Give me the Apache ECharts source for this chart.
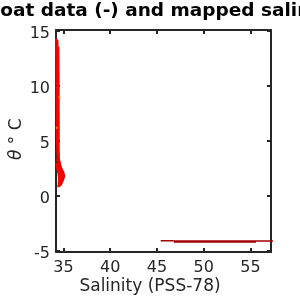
<!DOCTYPE html>
<html><head><meta charset="utf-8">
<script src="https://cdn.jsdelivr.net/npm/echarts@6/dist/echarts.min.js"></script>
<style>html,body{margin:0;padding:0;background:#fff}#c{width:300px;height:300px}</style>
</head><body><div id="c"></div>
<script>
const titleText = "float data (-) and mapped salinity (o)";
const xLabel = "Salinity (PSS-78)";
const xTicks = [35, 40, 45, 50, 55];
const yTicks = [-5, 0, 5, 10, 15];

// float profiles: salinity / theta
const floatTheta1 = [14.3, 13, 11, 9, 7, 5, 4, 3, 2.5, 2, 1.6];
const floatSal1   = [34.24, 34.25, 34.27, 34.3, 34.31, 34.33, 34.37, 34.43, 34.55, 34.6, 34.62];
const floatTheta2 = [14.2, 12.5, 10.5, 8.5, 6.5, 4.5, 3.5, 2.8, 2.2, 1.8, 1.2];
const floatSal2   = [34.33, 34.34, 34.36, 34.38, 34.4, 34.42, 34.47, 34.6, 34.75, 34.82, 34.7];
const floatTheta3 = [13.6, 12, 10, 8, 6, 4.2, 3.2, 2.6, 2.0, 1.4, 1.0];
const floatSal3   = [34.42, 34.44, 34.46, 34.46, 34.47, 34.45, 34.5, 34.7, 34.9, 34.85, 34.7];
const floatTheta4 = [3.4, 3.0, 2.7, 2.4, 2.1, 1.8, 1.5, 1.2, 0.9];
const floatSal4   = [34.3, 34.45, 34.6, 34.8, 34.98, 35.05, 34.95, 34.75, 34.6];
const floatTheta5 = [3.0, 2.5, 2.0, 1.5, 1.0, 0.8];
const floatSal5   = [34.25, 34.35, 34.5, 34.55, 34.5, 34.45];
// orange specks
const specSal   = [34.15, 34.57, 34.28];
const specTheta = [12.0, 9.0, 6.2];
// mapped (dark red) lines
const mapSal1   = [45.4, 46.8];
const mapTheta1 = [-4.07, -4.07];
const mapSal2   = [46.8, 55.6];
const mapTheta2 = [-4.15, -4.15];
const mapSal3   = [55.6, 57.5];
const mapTheta3 = [-4.11, -4.11];

const zip = (a, b) => a.map((v, i) => [v, b[i]]);
const axisCol = '#262626';
const font = 'DejaVu Sans';

const chart = echarts.init(document.getElementById('c'), null, {renderer: 'canvas'});
function lineS(sal, th, color, w) {
  return {type: 'line', data: zip(sal, th), symbol: 'none', lineStyle: {color: color, width: w}, animation: false, z: 3};
}
const baseX = (pos, labels) => ({
  type: 'value', min: 34.2, max: 57.2, position: pos,
  axisLine: {show: true, onZero: false, lineStyle: {color: axisCol, width: 2}},
  axisTick: {show: true, inside: true, length: 4, lineStyle: {color: axisCol, width: 2}, customValues: xTicks},
  axisLabel: {show: labels, customValues: xTicks, color: axisCol, fontFamily: font, fontSize: 16, margin: 8},
  splitLine: {show: false}
});
const baseY = (pos, labels) => ({
  type: 'value', min: -5.1, max: 15.1, position: pos,
  axisLine: {show: true, onZero: false, lineStyle: {color: axisCol, width: 2}},
  axisTick: {show: true, inside: true, length: 4, lineStyle: {color: axisCol, width: 2}, customValues: yTicks},
  axisLabel: {show: labels, customValues: yTicks, color: axisCol, fontFamily: font, fontSize: 16, margin: 6,
    formatter: v => '{a|' + v + '}',
    rich: {a: {fontFamily: font, fontSize: 16, color: axisCol, padding: [6, 0, 0, 0]}}},
  splitLine: {show: false}
});
chart.setOption({
  animation: false,
  grid: {left: 56, right: 29, top: 30, bottom: 48},
  xAxis: [baseX('bottom', true), baseX('top', false)],
  yAxis: [baseY('left', true), baseY('right', false)],
  graphic: [
    {type: 'text', left: -13.5, top: 1.5, style: {text: titleText, fontFamily: font, fontWeight: 'bold', fontSize: 18.5, fill: '#000'}},
    {type: 'text', left: 'center', top: 278, style: {text: xLabel, fontFamily: font, fontSize: 17, fill: axisCol}, x: 13},
    {type: 'text', x: 8, y: 160, rotation: Math.PI / 2, style: {text: '{i|θ} ° C', fontFamily: font, fontSize: 17, fill: axisCol, rich: {i: {fontStyle: 'italic', fontFamily: font, fontSize: 17, fill: axisCol}}}}
  ],
  series: [
    lineS(floatSal1, floatTheta1, '#ff0000', 2.5),
    lineS(floatSal2, floatTheta2, '#ee0000', 2.5),
    lineS(floatSal3, floatTheta3, '#ff0000', 2.5),
    lineS(floatSal4, floatTheta4, '#e00000', 2.5),
    lineS(floatSal5, floatTheta5, '#ff0000', 2.5),
    {type: 'scatter', data: zip(specSal, specTheta), symbol: 'rect', symbolSize: 2, itemStyle: {color: '#ffaa00'}, z: 4, animation: false},
    lineS(mapSal1, mapTheta1, '#a00000', 1.5),
    lineS(mapSal2, mapTheta2, '#a00000', 2.5),
    lineS(mapSal3, mapTheta3, '#a00000', 1.5)
  ]
});
</script></body></html>
